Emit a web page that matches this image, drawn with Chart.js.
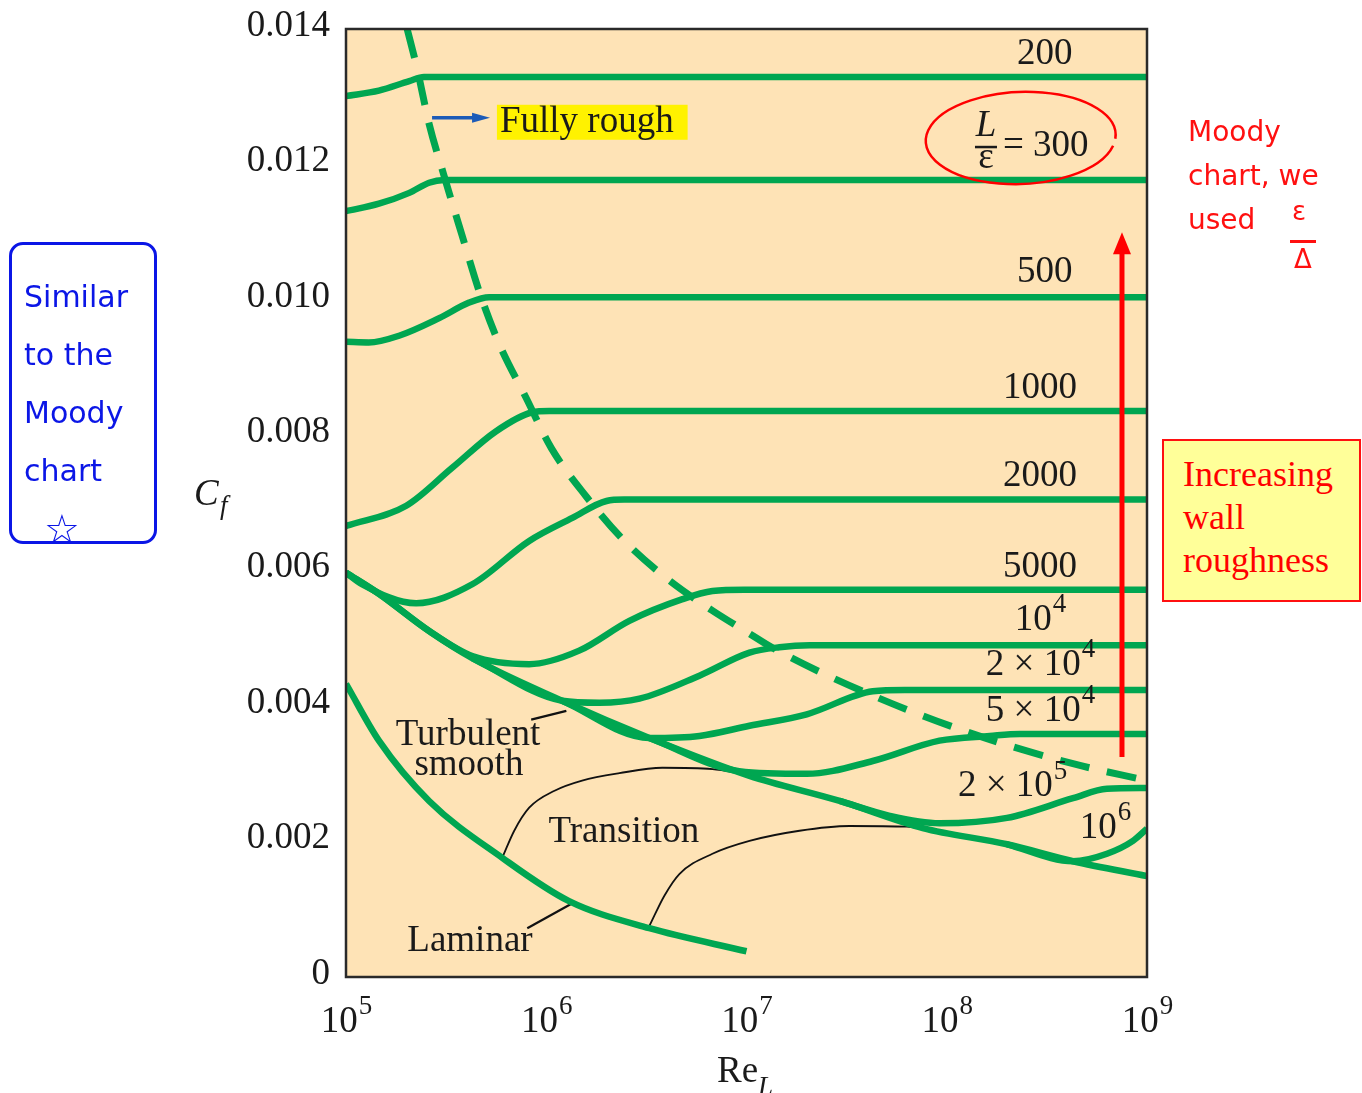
<!DOCTYPE html>
<html>
<head>
<meta charset="utf-8">
<script src="https://cdn.jsdelivr.net/npm/chart.js@4.4.1/dist/chart.umd.min.js"></script>
<style>
  body { margin: 0; background: #fff; overflow: hidden; }
  #wrap { position: relative; width: 1362px; height: 1093px; }
  .hand { position: absolute; font-family: "DejaVu Sans", sans-serif; white-space: nowrap; }
  .blue { color: #0b16e6; }
  .red { color: #ff1010; }
</style>
</head>
<body>
<div id="wrap">
  <canvas id="chart" width="1362" height="1093"></canvas>

  <div style="position:absolute;left:9px;top:242px;width:148px;height:302px;border:3px solid #0b16e6;border-radius:14px;box-sizing:border-box;"></div>
  <div class="hand blue" style="left:24px;top:268px;font-size:30px;line-height:58px;">Similar<br>to the<br>Moody<br>chart</div>
  <div class="hand blue" style="left:44px;top:506px;font-size:40px;">☆</div>

  <div class="hand red" style="left:1188px;top:110px;font-size:28px;line-height:44px;">Moody<br>chart, we<br>used</div>
  <div class="hand red" style="left:1292px;top:196px;font-size:26px;">ε</div>
  <div style="position:absolute;left:1290px;top:240px;width:26px;height:3px;background:#ff1010;"></div>
  <div class="hand red" style="left:1294px;top:244px;font-size:26px;">Δ</div>

  <div style="position:absolute;left:1162px;top:439px;width:199px;height:163px;box-sizing:border-box;border:2px solid #ff1010;background:#ffff99;padding:12px 0 0 19px;font-family:'Liberation Serif',serif;font-size:36px;line-height:43px;color:#ff0000;">Increasing<br>wall<br>roughness</div>
</div>

<script>
// x = Re_L, y = C_f
const reTicks = [1e5, 1e6, 1e7, 1e8, 1e9];
const cfTicks = [0, 0.002, 0.004, 0.006, 0.008, 0.010, 0.012, 0.014];

const rough200 = [[1e5, 0.01301], [1.46e5, 0.01309], [2.07e5, 0.01323], [2.45e5, 0.01329], [1e9, 0.01329]];
const rough300 = [[1e5, 0.01131], [1.46e5, 0.01142], [2.07e5, 0.01158], [2.6e5, 0.01173], [3.09e5, 0.01177], [1e9, 0.01177]];
const rough500 = [[1e5, 0.00938], [1.3e5, 0.00937], [1.84e5, 0.00947], [2.92e5, 0.00973], [4.12e5, 0.00996], [5.19e5, 0.01004], [1e9, 0.01004]];
const rough1000 = [[1e5, 0.00666], [2.0e5, 0.00696], [3.39e5, 0.00752], [5.62e5, 0.00806], [8.51e5, 0.00834], [1.035e6, 0.00836], [1e9, 0.00836]];
const rough2000 = [[1e5, 0.00597], [1.2e5, 0.0058], [2.24e5, 0.00552], [4.27e5, 0.0058], [8.22e5, 0.00644], [1.35e6, 0.00678], [2.0e6, 0.00703], [2.45e6, 0.00705], [1e9, 0.00705]];
const rough5000 = [[1e5, 0.00597], [1.46e5, 0.00566], [2.6e5, 0.00511], [4.27e5, 0.00474], [8.22e5, 0.00462], [1.46e6, 0.00482], [2.6e6, 0.00526], [4.79e6, 0.00558], [6.76e6, 0.0057], [9.77e6, 0.00572], [1e9, 0.00572]];
const rough1e4 = [[4.27e5, 0.00471], [1.2e6, 0.00408], [1.84e6, 0.00405], [2.92e6, 0.00411], [5.82e6, 0.00445], [1.035e7, 0.00479], [1.46e7, 0.00487], [2.07e7, 0.0049], [1e9, 0.0049]];
const rough2e4 = [[1.2e6, 0.00408], [3.27e6, 0.00353], [5.82e6, 0.00356], [1.035e7, 0.00371], [2.0e7, 0.00388], [4.27e7, 0.00422], [6.17e7, 0.00424], [1e9, 0.00424]];
const rough5e4 = [[3.27e6, 0.00353], [9.2e6, 0.00304], [2.0e7, 0.003], [4.27e7, 0.00319], [9.2e7, 0.00349], [1.64e8, 0.00356], [2.32e8, 0.00359], [1e9, 0.00359]];
const rough2e5 = [[2.92e7, 0.0026], [5.19e7, 0.00238], [9.2e7, 0.00227], [2.0e8, 0.00235], [4.27e8, 0.00264], [6.31e8, 0.00278], [1e9, 0.00279]];
const rough1e6 = [[2.0e8, 0.00196], [4.27e8, 0.00171], [6.31e8, 0.00182], [8.51e8, 0.00201], [1e9, 0.00219]];

const smooth = [[1e5, 0.00597], [1.46e5, 0.00566], [2.6e5, 0.00511], [4.27e5, 0.00471], [1.2e6, 0.00408], [3.27e6, 0.00353], [1.035e7, 0.00297], [2.92e7, 0.0026], [7.59e7, 0.0022], [2.0e8, 0.00196], [4.27e8, 0.00171], [1e9, 0.00149]];
const laminar = [[1e5, 0.00433], [1.46e5, 0.00349], [2.6e5, 0.0026], [6.03e5, 0.00176], [1.3e6, 0.00112], [3.27e6, 0.00072], [1e7, 0.00038]];
const fullyRough = [[2.02e5, 0.014], [2.26e5, 0.01343], [2.6e5, 0.0126], [3.09e5, 0.01183], [3.8e5, 0.01095], [4.62e5, 0.01013], [5.82e5, 0.00935], [7.94e5, 0.00855], [1.06e6, 0.00781], [1.58e6, 0.0071], [2.4e6, 0.00647], [3.98e6, 0.00589], [6.76e6, 0.00541], [1.035e7, 0.00507], [1.35e7, 0.00486], [3.8e7, 0.00422], [1.35e8, 0.00359], [4.27e8, 0.00315], [1e9, 0.0029]];
const transition1 = [[6.03e5, 0.00176], [6.92e5, 0.00216], [8.22e5, 0.0025], [1.1e6, 0.00275], [1.51e6, 0.0029], [2.32e6, 0.00301], [3.8e6, 0.00309], [6.76e6, 0.00307], [9.77e6, 0.003]];
const transition2 = [[3.27e6, 0.00075], [3.89e6, 0.0012], [4.62e6, 0.00152], [6.76e6, 0.00182], [1.035e7, 0.00201], [1.84e7, 0.00216], [3.27e7, 0.00223], [6.31e7, 0.00222], [8.22e7, 0.00217]];
const leaderTurbulent = [[8.41e5, 0.0038], [1.26e6, 0.00393]];
const leaderLaminar = [[8.04e5, 0.00072], [1.35e6, 0.00109]];

const GREEN = "#00a651";
const SERIF = "'Liberation Serif', 'Times New Roman', serif";

function pts(arr) {
  return arr.map(([x, y]) => ({ x, y }));
}

function greenLine(arr, extra) {
  return Object.assign({
    data: pts(arr),
    borderColor: GREEN,
    borderWidth: 6.5,
    pointRadius: 0,
    fill: false,
    cubicInterpolationMode: "monotone",
  }, extra || {});
}

function thinLine(arr, w) {
  return {
    data: pts(arr),
    borderColor: "#111",
    borderWidth: w,
    pointRadius: 0,
    fill: false,
    cubicInterpolationMode: "monotone",
  };
}

// text labels placed at data positions (Re, Cf)
const curveLabels = [
  { base: "200", re: 3.09e8, cf: 0.01362 },
  { base: "500", re: 3.09e8, cf: 0.0104 },
  { base: "1000", re: 2.92e8, cf: 0.0087 },
  { base: "2000", re: 2.92e8, cf: 0.0074 },
  { base: "5000", re: 2.92e8, cf: 0.00605 },
  { base: "10", sup: "4", re: 2.92e8, cf: 0.00527 },
  { base: "2 × 10", sup: "4", re: 2.92e8, cf: 0.00461 },
  { base: "5 × 10", sup: "4", re: 2.92e8, cf: 0.00393 },
  { base: "2 × 10", sup: "5", re: 2.12e8, cf: 0.00281 },
  { base: "10", sup: "6", re: 6.17e8, cf: 0.0022 },
  { base: "Turbulent", re: 4.07e5, cf: 0.00357 },
  { base: "smooth", re: 4.11e5, cf: 0.00313 },
  { base: "Transition", re: 2.44e6, cf: 0.00213 },
  { base: "Laminar", re: 4.16e5, cf: 0.00053 },
];

function drawSup(ctx, base, sup, cx, cy, size) {
  ctx.font = `${size}px ${SERIF}`;
  const wb = ctx.measureText(base).width;
  let ws = 0;
  const ss = Math.round(size * 0.72);
  if (sup) {
    ctx.font = `${ss}px ${SERIF}`;
    ws = ctx.measureText(sup).width;
  }
  const x0 = cx - (wb + ws) / 2;
  ctx.textAlign = "left";
  ctx.textBaseline = "middle";
  ctx.font = `${size}px ${SERIF}`;
  ctx.fillText(base, x0, cy);
  if (sup) {
    ctx.font = `${ss}px ${SERIF}`;
    ctx.fillText(sup, x0 + wb + 1, cy - size * 0.4);
  }
}

function arrowHead(ctx, tipX, tipY, dx, dy, len, half) {
  const bx = tipX - dx * len, by = tipY - dy * len;
  ctx.beginPath();
  ctx.moveTo(tipX, tipY);
  ctx.lineTo(bx - dy * half, by + dx * half);
  ctx.lineTo(bx + dy * half, by - dx * half);
  ctx.closePath();
  ctx.fill();
}

const decorations = {
  id: "decorations",
  beforeDatasetsDraw(chart) {
    const { ctx, chartArea: a } = chart;
    ctx.save();
    ctx.fillStyle = "#fee3b6";
    ctx.fillRect(a.left, a.top, a.right - a.left, a.bottom - a.top);
    ctx.restore();
  },
  afterDatasetsDraw(chart) {
    const { ctx } = chart;
    const xs = chart.scales.x, ys = chart.scales.y;
    const X = (v) => xs.getPixelForValue(v);
    const Y = (v) => ys.getPixelForValue(v);
    ctx.save();
    ctx.fillStyle = "#1a1a1a";

    curveLabels.forEach((l) => drawSup(ctx, l.base, l.sup, X(l.re), Y(l.cf), 37));

    // L / eps = 300
    const fx = X(1.57e8), fy = Y(0.01229);
    ctx.font = `italic 37px ${SERIF}`;
    ctx.textAlign = "center";
    ctx.textBaseline = "middle";
    ctx.fillText("L", fx, fy - 19);
    ctx.fillRect(fx - 11, fy + 1, 22, 2.5);
    ctx.font = `37px ${SERIF}`;
    ctx.textBaseline = "alphabetic";
    ctx.fillText("ε", fx, fy + 23);
    ctx.textAlign = "left";
    ctx.textBaseline = "middle";
    ctx.fillText("= 300", fx + 17, fy + 1);

    // Fully rough, highlighted
    const rx = X(5.87e5), ry = Y(0.01263);
    ctx.font = `37px ${SERIF}`;
    const w = ctx.measureText("Fully rough").width;
    ctx.fillStyle = "#fff200";
    ctx.fillRect(rx - 3, ry - 17, w + 17, 35);
    ctx.fillStyle = "#1a1a1a";
    ctx.textAlign = "left";
    ctx.fillText("Fully rough", rx, ry + 1);

    // blue arrow
    const b0 = X(2.69e5), b1 = X(5.24e5), by = Y(0.01269);
    ctx.strokeStyle = "#1c5bb8";
    ctx.fillStyle = "#1c5bb8";
    ctx.lineWidth = 3.5;
    ctx.beginPath();
    ctx.moveTo(b0, by);
    ctx.lineTo(b1 - 12, by);
    ctx.stroke();
    arrowHead(ctx, b1, by, 1, 0, 18, 5);

    // red arrow
    const ax = X(7.5e8), ay0 = Y(0.00325), ay1 = Y(0.011);
    ctx.strokeStyle = "#ff0000";
    ctx.fillStyle = "#ff0000";
    ctx.lineWidth = 5;
    ctx.beginPath();
    ctx.moveTo(ax, ay0);
    ctx.lineTo(ax, ay1 + 18);
    ctx.stroke();
    arrowHead(ctx, ax, ay1, 0, -1, 22, 9);

    // red circle round L/eps = 300
    ctx.lineWidth = 2.5;
    ctx.beginPath();
    ctx.ellipse(X(2.34e8), Y(0.01239), 95, 46, -0.04, 0.25, Math.PI * 2 + 0.1);
    ctx.stroke();
    ctx.restore();
  },
  afterDraw(chart) {
    const { ctx, chartArea: a } = chart;
    const xs = chart.scales.x;
    ctx.save();
    ctx.strokeStyle = "#2a2a2a";
    ctx.lineWidth = 2.5;
    ctx.strokeRect(a.left, a.top, a.right - a.left, a.bottom - a.top);

    ctx.fillStyle = "#1a1a1a";
    xs.ticks.forEach((t) => {
      const e = Math.round(Math.log10(t.value));
      drawSup(ctx, "10", String(e), xs.getPixelForValue(t.value), a.bottom + 45, 37);
    });

    // axis titles
    ctx.font = `italic 37px ${SERIF}`;
    ctx.textAlign = "left";
    ctx.textBaseline = "alphabetic";
    ctx.fillText("C", 194, 505);
    ctx.font = `italic 27px ${SERIF}`;
    ctx.fillText("f", 220, 514);
    ctx.font = `37px ${SERIF}`;
    ctx.fillText("Re", 717, 1082);
    ctx.font = `italic 27px ${SERIF}`;
    ctx.fillText("L", 758, 1095);
    ctx.restore();
  },
};

new Chart(document.getElementById("chart"), {
  type: "scatter",
  data: {
    datasets: [
      greenLine(rough200),
      greenLine(rough300),
      greenLine(rough500),
      greenLine(rough1000),
      greenLine(rough2000),
      greenLine(rough5000),
      greenLine(rough1e4),
      greenLine(rough2e4),
      greenLine(rough5e4),
      greenLine(rough2e5),
      greenLine(rough1e6),
      greenLine(smooth),
      greenLine(laminar),
      greenLine(fullyRough, { borderDash: [30, 18], borderWidth: 7 }),
      thinLine(transition1, 1.8),
      thinLine(transition2, 1.8),
      thinLine(leaderTurbulent, 2.2),
      thinLine(leaderLaminar, 2.2),
    ].map((d) => Object.assign(d, { showLine: true })),
  },
  options: {
    responsive: false,
    animation: false,
    events: [],
    layout: { padding: { top: 29, right: 215, left: 0, bottom: 0 } },
    plugins: {
      legend: { display: false },
      tooltip: { enabled: false },
    },
    scales: {
      x: {
        type: "logarithmic",
        min: 1e5,
        max: 1e9,
        grid: { display: false, drawTicks: false },
        border: { display: false },
        ticks: { display: false },
        afterBuildTicks: (s) => { s.ticks = reTicks.map((v) => ({ value: v })); },
        afterFit: (s) => { s.height = 116; s.paddingLeft = 0; s.paddingRight = 0; },
      },
      y: {
        min: 0,
        max: 0.014,
        grid: { display: false, drawTicks: false },
        border: { display: false },
        ticks: {
          color: "#1a1a1a",
          padding: 16,
          labelOffset: -3,
          font: { family: SERIF, size: 37 },
          callback: (v) => (v === 0 ? "0" : v.toFixed(3)),
        },
        afterBuildTicks: (s) => { s.ticks = cfTicks.map((v) => ({ value: v })); },
        afterFit: (s) => { s.width = 346; s.paddingTop = 0; s.paddingBottom = 0; },
      },
    },
  },
  plugins: [decorations],
});
</script>
</body>
</html>
